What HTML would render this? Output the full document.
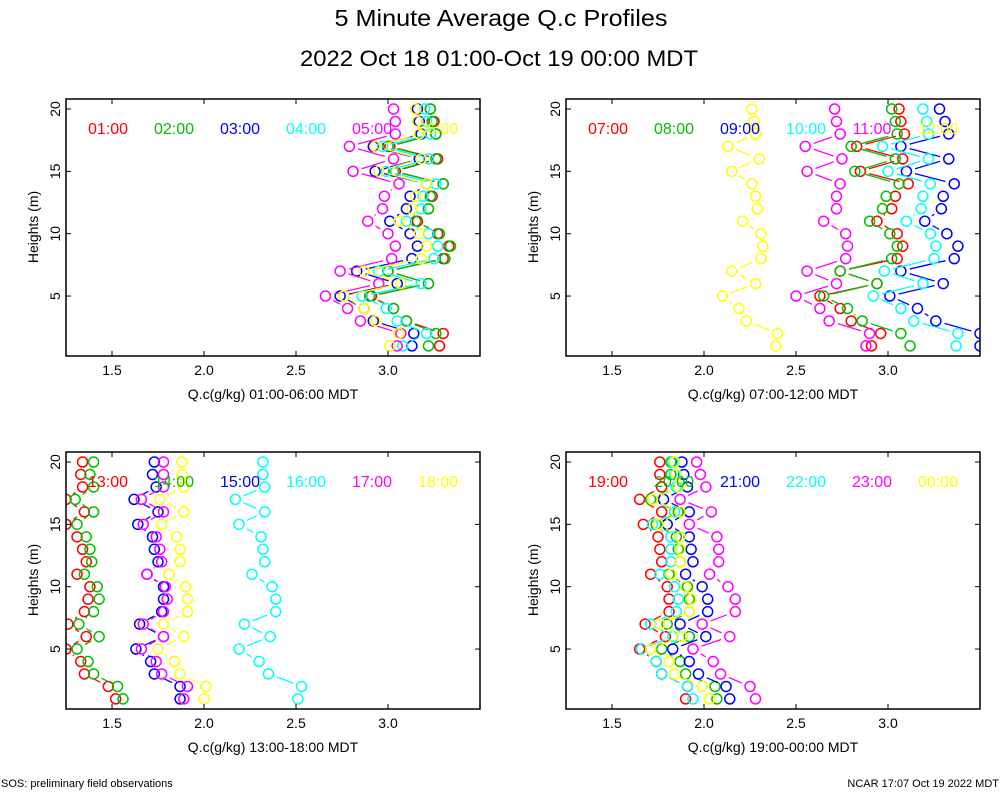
<!DOCTYPE html>
<html><head><meta charset="utf-8"><style>
html,body{margin:0;padding:0;background:#fff;}
svg{display:block;font-family:"Liberation Sans",sans-serif;}
</style></head><body>
<svg id="chart" width="1000" height="800" viewBox="0 0 1000 800" xmlns="http://www.w3.org/2000/svg">
<rect width="1000" height="800" fill="#fff"/>
<text x="501" y="26" font-size="23" text-anchor="middle" textLength="333" lengthAdjust="spacingAndGlyphs">5 Minute Average Q.c Profiles</text>
<text x="499" y="66" font-size="22" text-anchor="middle" textLength="398" lengthAdjust="spacingAndGlyphs">2022 Oct 18 01:00-Oct 19 00:00 MDT</text>
<text x="1" y="787" font-size="11">SOS: preliminary field observations</text>
<text x="999" y="787" font-size="11" text-anchor="end">NCAR 17:07 Oct 19 2022 MDT</text>
</svg>
<script>
// heights 1..20
const heights = [1,2,3,4,5,6,7,8,9,10,11,12,13,14,15,16,17,18,19,20];
const xTicks = [1.5, 2.0, 2.5, 3.0];
const xTickLabels = ["1.5","2.0","2.5","3.0"];
const yTicks = [5, 10, 15, 20];
const yTickLabels = ["5","10","15","20"];
const colors = ["#ff0000","#00c000","#0000ff","#00ffff","#ff00ff","#ffff00"];

const p1Labels = ["01:00","02:00","03:00","04:00","05:00","06:00"];
const p1Red = [3.28,3.30,3.10,3.03,2.91,3.22,3.00,3.30,3.33,3.27,3.16,3.22,3.24,3.30,3.04,3.27,3.01,3.26,3.25,3.23];
const p1Green = [3.22,3.26,3.10,3.03,2.90,3.22,3.00,3.31,3.34,3.28,3.15,3.22,3.23,3.30,3.03,3.26,3.00,3.26,3.24,3.23];
const p1Blue = [3.13,3.14,2.92,2.87,2.74,3.05,2.83,3.13,3.16,3.12,3.01,3.10,3.12,3.21,2.93,3.17,2.92,3.18,3.17,3.16];
const p1Cyan = [3.08,3.21,3.05,2.99,2.86,3.18,2.95,3.25,3.27,3.22,3.10,3.18,3.19,3.26,2.99,3.22,2.97,3.23,3.21,3.20];
const p1Magenta = [3.05,3.07,2.85,2.78,2.66,2.95,2.74,3.02,3.04,3.00,2.89,2.97,2.98,3.06,2.81,3.03,2.79,3.04,3.04,3.03];
const p1Yellow = [3.01,3.06,2.93,2.87,2.76,3.07,2.87,3.18,3.21,3.17,3.06,3.13,3.15,3.21,2.95,3.18,2.93,3.17,3.16,3.15];

const p2Labels = ["07:00","08:00","09:00","10:00","11:00","12:00"];
const p2Red = [2.91,2.96,2.80,2.74,2.63,2.94,2.74,3.05,3.08,3.05,2.94,3.02,3.04,3.11,2.85,3.08,2.83,3.09,3.07,3.06];
const p2Green = [3.12,3.07,2.86,2.78,2.65,2.94,2.74,3.02,3.05,3.01,2.90,2.97,2.99,3.06,2.82,3.04,2.80,3.05,3.04,3.02];
const p2Blue = [3.50,3.50,3.26,3.16,3.01,3.30,3.07,3.36,3.38,3.32,3.20,3.29,3.30,3.36,3.10,3.33,3.07,3.33,3.31,3.28];
const p2Cyan = [3.37,3.38,3.14,3.07,2.92,3.19,2.98,3.25,3.26,3.23,3.10,3.18,3.19,3.23,3.00,3.22,2.97,3.22,3.21,3.19];
const p2Magenta = [2.88,2.90,2.68,2.63,2.50,2.72,2.56,2.77,2.78,2.77,2.65,2.72,2.72,2.74,2.56,2.75,2.55,2.74,2.72,2.71];
const p2Yellow = [2.39,2.40,2.23,2.19,2.10,2.28,2.15,2.31,2.32,2.31,2.21,2.29,2.28,2.26,2.15,2.30,2.13,2.28,2.27,2.26];

const p3Labels = ["13:00","14:00","15:00","16:00","17:00","18:00"];
const p3Red = [1.52,1.48,1.35,1.33,1.25,1.36,1.26,1.35,1.37,1.38,1.31,1.36,1.34,1.31,1.25,1.35,1.25,1.34,1.33,1.34];
const p3Green = [1.56,1.53,1.40,1.37,1.31,1.43,1.32,1.40,1.43,1.42,1.35,1.39,1.38,1.36,1.31,1.40,1.30,1.40,1.38,1.40];
const p3Blue = [1.87,1.87,1.73,1.71,1.63,1.78,1.65,1.77,1.78,1.78,1.69,1.75,1.73,1.72,1.64,1.75,1.62,1.74,1.72,1.73];
const p3Cyan = [2.51,2.53,2.35,2.30,2.19,2.36,2.22,2.39,2.39,2.37,2.26,2.33,2.32,2.31,2.19,2.33,2.17,2.33,2.32,2.32];
const p3Magenta = [1.89,1.91,1.77,1.74,1.66,1.78,1.67,1.78,1.80,1.79,1.69,1.77,1.76,1.74,1.67,1.78,1.66,1.78,1.78,1.78];
const p3Yellow = [2.00,2.01,1.87,1.84,1.75,1.89,1.78,1.91,1.91,1.90,1.81,1.87,1.87,1.85,1.77,1.89,1.76,1.89,1.88,1.88];

const p4Labels = ["19:00","20:00","21:00","22:00","23:00","00:00"];
const p4Red = [1.90,1.91,1.77,1.74,1.65,1.79,1.68,1.81,1.81,1.80,1.71,1.77,1.76,1.75,1.67,1.77,1.65,1.77,1.76,1.76];
const p4Green = [2.07,2.06,1.90,1.87,1.77,1.92,1.80,1.92,1.92,1.91,1.81,1.87,1.86,1.85,1.74,1.86,1.71,1.85,1.82,1.82];
const p4Blue = [2.14,2.12,1.97,1.92,1.83,2.01,1.87,2.02,2.02,1.99,1.90,1.94,1.93,1.92,1.80,1.92,1.78,1.91,1.89,1.88];
const p4Cyan = [1.94,1.91,1.77,1.74,1.66,1.83,1.71,1.85,1.86,1.84,1.76,1.82,1.82,1.82,1.72,1.84,1.72,1.85,1.84,1.83];
const p4Magenta = [2.28,2.25,2.09,2.05,1.94,2.14,1.99,2.17,2.17,2.13,2.03,2.08,2.08,2.07,1.92,2.04,1.87,2.01,1.98,1.96];
const p4Yellow = [2.03,1.99,1.84,1.81,1.71,1.88,1.76,1.92,1.93,1.90,1.82,1.87,1.87,1.87,1.75,1.87,1.72,1.86,1.85,1.84];

const panels = [
  {x0:66, y0:0, title:"Q.c(g/kg) 01:00-06:00 MDT", labels:p1Labels, series:[p1Red,p1Green,p1Blue,p1Cyan,p1Magenta,p1Yellow]},
  {x0:566, y0:0, title:"Q.c(g/kg) 07:00-12:00 MDT", labels:p2Labels, series:[p2Red,p2Green,p2Blue,p2Cyan,p2Magenta,p2Yellow]},
  {x0:66, y0:353, title:"Q.c(g/kg) 13:00-18:00 MDT", labels:p3Labels, series:[p3Red,p3Green,p3Blue,p3Cyan,p3Magenta,p3Yellow]},
  {x0:566, y0:353, title:"Q.c(g/kg) 19:00-00:00 MDT", labels:p4Labels, series:[p4Red,p4Green,p4Blue,p4Cyan,p4Magenta,p4Yellow]}
];
const NS = "http://www.w3.org/2000/svg";
const svg = document.getElementById("chart");
function mk(tag, attrs, parent){ const e=document.createElementNS(NS,tag); for(const k in attrs) e.setAttribute(k,attrs[k]); (parent||svg).appendChild(e); return e; }

panels.forEach((p, pi) => {
  const W = 414, top = 99 + p.y0, bot = 356 + p.y0, left = p.x0, right = p.x0 + W;
  const xs = v => left + (v - 1.25) * 184;
  const ys = h => 109 + p.y0 + (20 - h) * 12.47;
  const g = mk("g", {});
  
  
  const clipId = "clip" + pi;
  const cp = mk("clipPath", {id: clipId}, g);
  mk("rect", {x:left, y:top, width:W, height:bot-top}, cp);
  const data = mk("g", {"clip-path": "url(#" + clipId + ")"}, g);
  p.series.forEach((vals, si) => {
    const sg = mk("g", {stroke: colors[si], fill: "none", "stroke-width": 1.5}, data);
    
    
    const r = 5, gap = 9;
    for (let i = 0; i < vals.length - 1; i++) {
      const xa = xs(vals[i]), ya = ys(heights[i]), xb = xs(vals[i+1]), yb = ys(heights[i+1]);
      const dx = xb - xa, dy = yb - ya, L = Math.hypot(dx, dy);
      if (L > 2*gap + 1) {
        const ux = dx/L, uy = dy/L;
        const seg = mk("line", {x1: xa + ux*gap, y1: ya + uy*gap, x2: xb - ux*gap, y2: yb - uy*gap, "stroke-width": 1.3}, sg);
        
        
      }
    }
    vals.forEach((v, i) => {
      const c = mk("circle", {cx: xs(v), cy: ys(heights[i]), r: r}, sg);
      
      
    });
  });
  const fr = mk("rect", {x:left, y:top, width:W, height:bot-top, fill:"none", stroke:"#000", "stroke-width":1.5}, g);
  
  
  xTicks.forEach((t, i) => {
    const x = xs(t);
    mk("line", {x1:x, y1:bot, x2:x, y2:bot-5, stroke:"#000"}, g);
    mk("line", {x1:x, y1:top, x2:x, y2:top+5, stroke:"#000"}, g);
    const tl = mk("text", {x:x, y:bot+19, "font-size":14, "text-anchor":"middle"}, g);
    tl.textContent = xTickLabels[i];
    
    
  });
  yTicks.forEach((t, i) => {
    const y = ys(t);
    mk("line", {x1:left, y1:y, x2:left+5, y2:y, stroke:"#000"}, g);
    mk("line", {x1:right, y1:y, x2:right-5, y2:y, stroke:"#000"}, g);
    const tl = mk("text", {x:0, y:0, "font-size":14, "text-anchor":"middle", transform:"translate(" + (left-6) + "," + y + ") rotate(-90)"}, g);
    tl.textContent = yTickLabels[i];
    
    
  });
  const xt = mk("text", {x:(left+right)/2, y:bot+43, "font-size":14, "text-anchor":"middle"}, g);
  xt.textContent = p.title;
  
  
  const yt = mk("text", {x:0, y:0, "font-size":14, "text-anchor":"middle", transform:"translate(" + (left-28) + "," + (top+128) + ") rotate(-90)"}, g);
  yt.textContent = "Heights (m)";
  
  
  p.labels.forEach((lab, si) => {
    const lt = mk("text", {x:left + 42 + si*66, y:top + 35, "font-size":16, "text-anchor":"middle", fill:colors[si]}, g);
    lt.textContent = lab;
    
    
  });
});
</script>
</body></html>
